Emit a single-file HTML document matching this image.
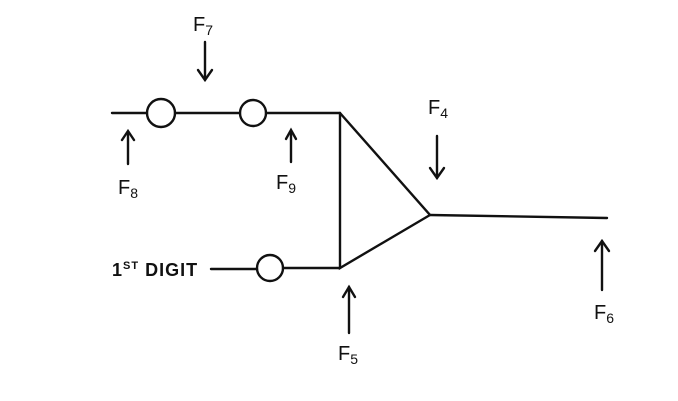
<!DOCTYPE html>
<html><head><style>
html,body{margin:0;padding:0;background:#fff;}
svg{display:block;}
text{font-family:"Liberation Sans",sans-serif;fill:#111;}
</style></head><body>
<svg width="678" height="401" viewBox="0 0 678 401">
<g stroke="#111" stroke-width="2.4" fill="none" stroke-linecap="round">
<line x1="112" y1="113" x2="147" y2="113"/>
<circle cx="161" cy="113" r="14"/>
<line x1="175" y1="113" x2="240" y2="113"/>
<circle cx="253" cy="113" r="13"/>
<line x1="266" y1="113" x2="340" y2="113"/>
<polyline points="340,113 430,215 340,268 340,113"/>
<line x1="430" y1="215" x2="607" y2="218"/>
<line x1="211" y1="269" x2="257" y2="269"/>
<circle cx="270" cy="268" r="13"/>
<line x1="283" y1="268" x2="340" y2="268"/>
<line x1="205" y1="42" x2="205" y2="80"/><polyline points="198,70 205,80 212,70"/>
<line x1="128" y1="132" x2="128" y2="164"/><polyline points="122,140 128,131 134,140"/>
<line x1="291" y1="131" x2="291" y2="162"/><polyline points="286,139 291,130 296,139"/>
<line x1="437" y1="136" x2="437" y2="178"/><polyline points="430,168 437,178 444,168"/>
<line x1="349" y1="287" x2="349" y2="333"/><polyline points="343,297 349,287 355,297"/>
<line x1="602" y1="241" x2="602" y2="290"/><polyline points="595,251 602,241 609,251"/>
</g>
<text x="193" y="31" font-size="20">F<tspan font-size="14" dy="4">7</tspan></text>
<text x="118" y="194" font-size="20">F<tspan font-size="14" dy="4">8</tspan></text>
<text x="276" y="189" font-size="20">F<tspan font-size="14" dy="4">9</tspan></text>
<text x="428" y="114" font-size="20">F<tspan font-size="14" dy="4">4</tspan></text>
<text x="338" y="360" font-size="20">F<tspan font-size="14" dy="4">5</tspan></text>
<text x="594" y="319" font-size="20">F<tspan font-size="14" dy="4">6</tspan></text>
<text x="112" y="276" font-size="18" font-weight="bold" letter-spacing="1">1<tspan font-size="11" dy="-7">ST</tspan><tspan dy="7"> DIGIT</tspan></text>
</svg>
</body></html>
